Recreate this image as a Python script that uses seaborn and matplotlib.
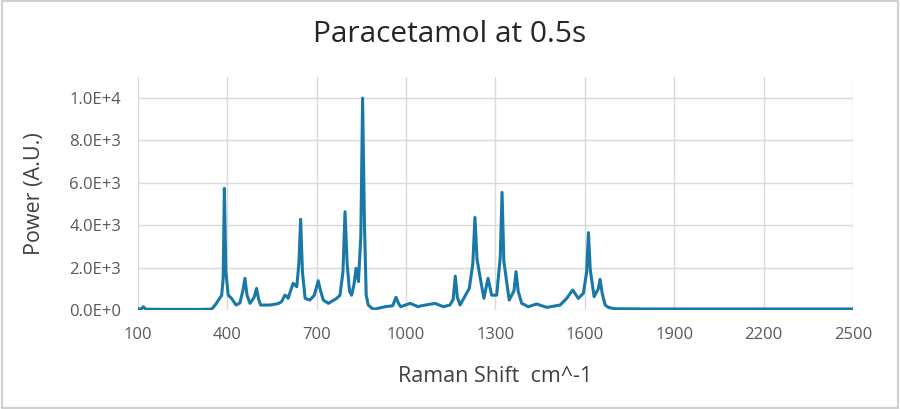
import matplotlib.pyplot as plt
import matplotlib.ticker as mticker
import seaborn as sns

sns.set_theme(style="whitegrid")
plt.rcParams["font.family"] = ["Open Sans", "DejaVu Sans"]

# spectrum points (Raman shift cm^-1, power A.U.)
shift = [100, 110, 118, 126, 200, 300, 347, 360, 370, 381, 386, 390, 395,
         403, 414, 429, 442, 452, 459, 466, 476, 490, 498, 505, 512, 543,
         570, 582, 593, 599, 604, 612, 621, 633, 640, 646, 652, 661, 677,
         692, 705, 713, 722, 739, 767, 778, 788, 795, 802, 810, 817, 825,
         832, 840, 848, 854, 860, 866, 873, 890, 929, 955, 966, 975, 982,
         1013, 1041, 1047, 1097, 1125, 1147, 1158, 1165, 1172, 1181, 1212,
         1224, 1231, 1238, 1250, 1261, 1275, 1287, 1304, 1316, 1322, 1328,
         1346, 1362, 1369, 1376, 1388, 1410, 1438, 1472, 1517, 1539, 1559,
         1578, 1595, 1606, 1612, 1618, 1631, 1645, 1651, 1658, 1668, 1679,
         1700, 1800, 2000, 2200, 2400, 2500]
power = [60, 40, 155, 40, 30, 30, 40, 250, 470, 700, 1500, 5740, 1800,
         700, 550, 235, 330, 900, 1495, 700, 315, 600, 1020, 500, 235, 235,
         300, 390, 700, 650, 550, 900, 1260, 1100, 2200, 4280, 1800, 550,
         470, 700, 1380, 900, 470, 315, 550, 700, 1800, 4640, 2200, 900,
         700, 1200, 1970, 1340, 3500, 10000, 4200, 700, 235, 30, 155, 200,
         600, 300, 155, 315, 155, 190, 315, 155, 235, 500, 1600, 600, 235,
         1020, 2200, 4370, 2400, 1415, 550, 1495, 700, 700, 2500, 5550, 2300,
         470, 900, 1810, 900, 315, 155, 285, 125, 235, 550, 945, 550, 790,
         1800, 3650, 1900, 630, 1000, 1450, 800, 235, 125, 60, 50, 50, 50,
         50, 50]

fig, ax = plt.subplots(figsize=(9, 4.09), dpi=100)
fig.subplots_adjust(left=0.1533, right=0.9478, bottom=0.242, top=0.812)

sns.lineplot(x=shift, y=power, ax=ax, color="#1a78a6", linewidth=2.2)

ax.set_xlim(100, 2500)
ax.set_ylim(0, 11000)
ax.set_xticks(range(100, 2501, 300))
ax.set_yticks(range(0, 10001, 2000))


def sci_label(v, pos):
    if v == 0:
        return "0.0E+0"
    exp = len(str(int(v))) - 1
    return f"{v / 10 ** exp:.1f}E+{exp}"


ax.yaxis.set_major_formatter(mticker.FuncFormatter(sci_label))
ax.tick_params(axis="both", labelsize=12, colors="#595959", length=0)
ax.tick_params(axis="x", pad=12)
ax.tick_params(axis="y", pad=12)
ax.grid(color="#d9d9d9", linewidth=1)
for s in ax.spines.values():
    s.set_visible(False)

ax.set_xlabel("Raman Shift  cm^-1", fontsize=15.5, color="#404040")
ax.xaxis.set_label_coords(0.5, -0.24)
ax.set_ylabel("Power (A.U.)", fontsize=15.5, color="#404040")
ax.yaxis.set_label_coords(-0.13, 0.5)
fig.text(0.5, 1 - 35 / 409, "Paracetamol at 0.5s", fontsize=21.5,
         color="#262626", ha="center", va="center")

fig.patches.append(plt.Rectangle((0.002, 0.003), 0.996, 0.994, transform=fig.transFigure,
                                 fill=False, edgecolor="#d0d0d0", linewidth=1.5))

fig.savefig("out.png", dpi=100)
